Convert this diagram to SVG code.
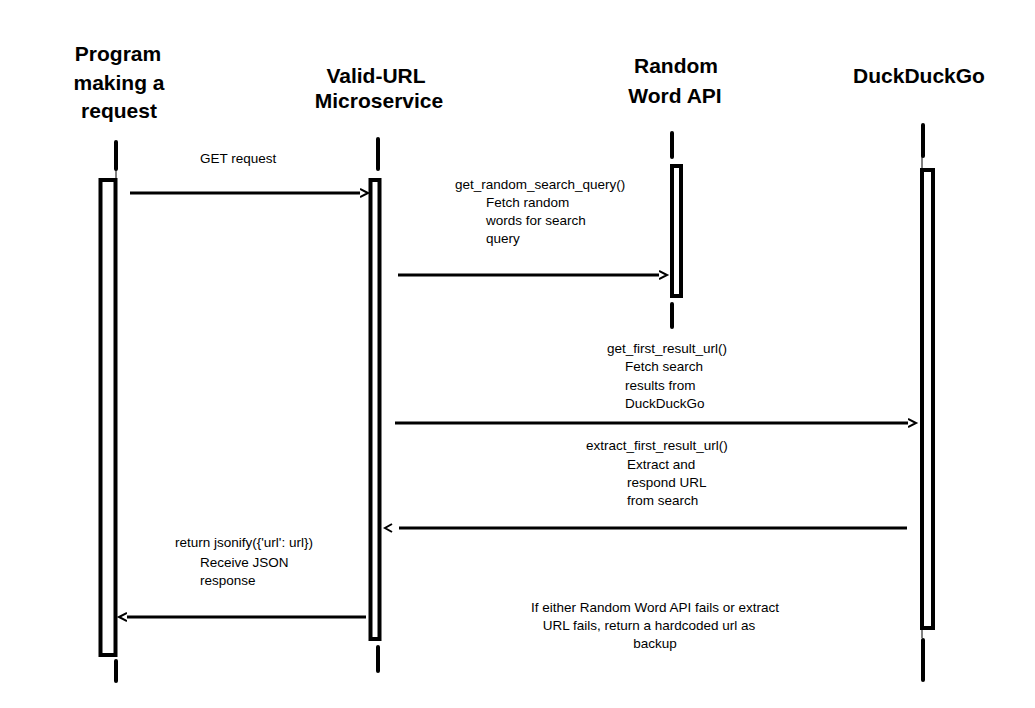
<svg xmlns="http://www.w3.org/2000/svg" width="1035" height="708" viewBox="0 0 1035 708">
  <defs>
    <style>
      .head { font-family: "Liberation Sans", Arial, sans-serif; font-weight: bold; font-size: 21px; fill: #000; text-anchor: middle; }
      .lbl { font-family: "Liberation Sans", Arial, sans-serif; font-size: 13.5px; fill: #000; }
      .mid { text-anchor: middle; }
      .life { stroke: #000; stroke-width: 4; stroke-linecap: round; fill: none; }
      .thin { stroke: #000; stroke-width: 1; fill: none; }
      .act { stroke: #000; stroke-width: 4; fill: #fff; }
      .msg { stroke: #000; stroke-width: 3; fill: none; marker-end: url(#chev); }
      .msg-gap { stroke: #000; stroke-width: 3; fill: none; marker-end: url(#chevgap); }
    </style>
    <marker id="chev" markerUnits="userSpaceOnUse" markerWidth="12" markerHeight="12" refX="0" refY="5" orient="auto" viewBox="0 0 12 10">
      <path d="M0,1 L8,5 L0,9" fill="none" stroke="#000" stroke-width="2"/>
    </marker>
    <marker id="chevgap" markerUnits="userSpaceOnUse" markerWidth="20" markerHeight="12" refX="-7" refY="5" orient="auto" viewBox="-7 0 20 10">
      <path d="M0,1 L7,5 L0,9" fill="none" stroke="#000" stroke-width="2"/>
    </marker>
  </defs>
  <rect x="0" y="0" width="1035" height="708" fill="#fff"/>

  <g id="node-program">
    <text class="head" x="118" y="61">Program</text>
    <text class="head" x="119" y="90">making a</text>
    <text class="head" x="119" y="118">request</text>
    <line class="life" x1="116" y1="142" x2="116" y2="169"/>
    <line class="thin" x1="116" y1="169" x2="116" y2="178"/>
    <rect class="act" x="100.5" y="180" width="15" height="475"/>
    <line class="life" x1="116" y1="661" x2="116" y2="681"/>
  </g>

  <g id="node-validurl">
    <text class="head" x="376" y="83">Valid-URL</text>
    <text class="head" x="379" y="108">Microservice</text>
    <line class="life" x1="378" y1="139" x2="378" y2="169"/>
    <rect class="act" x="370.5" y="180" width="9" height="459"/>
    <line class="life" x1="378" y1="647" x2="378" y2="671"/>
  </g>

  <g id="node-randomword">
    <text class="head" x="676" y="73">Random</text>
    <text class="head" x="675" y="103">Word API</text>
    <line class="life" x1="672" y1="133" x2="672" y2="157"/>
    <rect class="act" x="672" y="166" width="9" height="130"/>
    <line class="life" x1="672" y1="304" x2="672" y2="327"/>
  </g>

  <g id="node-duckduckgo">
    <text class="head" x="919" y="83">DuckDuckGo</text>
    <line class="life" x1="923" y1="125" x2="923" y2="156"/>
    <line class="thin" x1="922" y1="156" x2="922" y2="168"/>
    <rect class="act" x="922" y="170" width="11" height="458"/>
    <line class="thin" x1="922" y1="630" x2="922" y2="638"/>
    <line class="life" x1="923" y1="640" x2="923" y2="680"/>
  </g>

  <g id="connectors">
    <g id="msg-get">
      <line class="msg" x1="130" y1="193" x2="360" y2="193"/>
      <text class="lbl" x="200" y="163">GET request</text>
    </g>
    <g id="msg-random">
      <line class="msg" x1="398" y1="275" x2="659" y2="275"/>
      <text class="lbl" x="455" y="189">get_random_search_query()</text>
      <text class="lbl" x="486" y="207">Fetch random</text>
      <text class="lbl" x="486" y="225">words for search</text>
      <text class="lbl" x="486" y="243">query</text>
    </g>
    <g id="msg-ddg">
      <line class="msg" x1="395" y1="423" x2="908" y2="423"/>
      <text class="lbl" x="607" y="353">get_first_result_url()</text>
      <text class="lbl" x="625" y="371">Fetch search</text>
      <text class="lbl" x="625" y="390">results from</text>
      <text class="lbl" x="625" y="408">DuckDuckGo</text>
    </g>
    <g id="msg-extract">
      <line class="msg-gap" x1="907" y1="528" x2="399" y2="528"/>
      <text class="lbl" x="586" y="450">extract_first_result_url()</text>
      <text class="lbl" x="627" y="469">Extract and</text>
      <text class="lbl" x="627" y="487">respond URL</text>
      <text class="lbl" x="627" y="505">from search</text>
    </g>
    <g id="msg-return">
      <line class="msg" x1="366" y1="617" x2="127" y2="617"/>
      <text class="lbl" x="175" y="547">return jsonify({'url': url})</text>
      <text class="lbl" x="200" y="567">Receive JSON</text>
      <text class="lbl" x="200" y="585">response</text>
    </g>
  </g>

  <g id="note">
    <text class="lbl mid" x="655" y="612">If either Random Word API fails or extract</text>
    <text class="lbl mid" x="649" y="630">URL fails, return a hardcoded url as</text>
    <text class="lbl mid" x="655" y="648">backup</text>
  </g>
</svg>
